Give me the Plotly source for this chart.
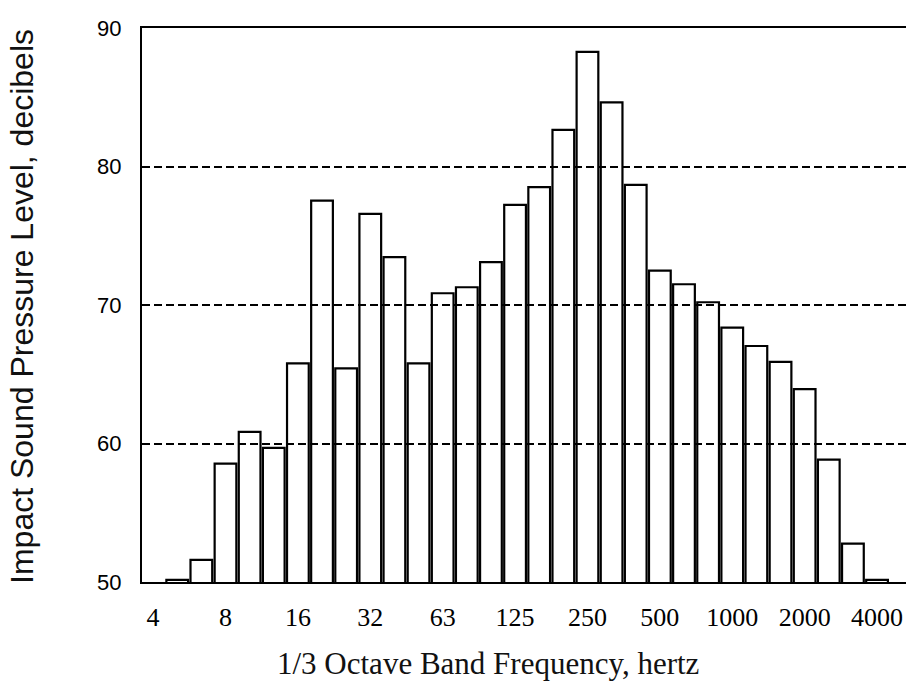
import plotly.graph_objects as go

# 1/3 octave band nominal centre frequencies (Hz)
bands = ["5", "6.3", "8", "10", "12.5", "16", "20", "25", "31.5", "40", "50", "63",
         "80", "100", "125", "160", "200", "250", "315", "400", "500", "630",
         "800", "1000", "1250", "1600", "2000", "2500", "3150", "4000"]
# band index position (4 Hz = 0)
band_pos = list(range(1, 31))
# Impact sound pressure level, dB
levels = [50.15, 51.6, 58.55, 60.84, 59.68, 65.78, 77.54, 65.42, 76.58, 73.45, 65.78, 70.85,
          71.28, 73.09, 77.23, 78.51, 82.65, 88.27, 84.63, 78.68, 72.48, 71.5,
          70.2, 68.36, 67.04, 65.9, 63.93, 58.84, 52.77, 50.15]

tick_pos = [0, 3, 6, 9, 12, 15, 18, 21, 24, 27, 30]
tick_labels = ["4", "8", "16", "32", "63", "125", "250", "500", "1000", "2000", "4000"]
y_ticks = [50, 60, 70, 80, 90]

fig = go.Figure()
fig.add_trace(go.Bar(
    x=band_pos, y=levels, width=0.9,
    marker=dict(color="rgba(0,0,0,0)", line=dict(color="black", width=2.2)),
    hovertext=bands,
))

fig.update_layout(
    width=909, height=685,
    margin=dict(l=142, r=3, t=28, b=103),
    plot_bgcolor="white", paper_bgcolor="white",
    showlegend=False,
    xaxis=dict(
        range=[-0.46, 31.2],
        tickvals=tick_pos, ticktext=tick_labels,
        showgrid=False, zeroline=False,
        showline=True, linecolor="black", linewidth=2, mirror=True,
        ticks="outside", ticklen=11, tickcolor="white",
        tickfont=dict(family="Liberation Serif", size=26, color="black"),
    ),
    yaxis=dict(
        range=[50, 90],
        tickvals=y_ticks,
        showgrid=True, gridcolor="black", gridwidth=2, griddash="8px,4px",
        zeroline=False,
        showline=True, linecolor="black", linewidth=2, mirror=False,
        ticks="outside", ticklen=14, tickcolor="white",
        tickfont=dict(family="Liberation Sans", size=22, color="black"),
    ),
    annotations=[
        dict(text="Impact Sound Pressure Level, decibels", xref="paper", yref="paper",
             x=-0.158, y=0.497, xanchor="center", yanchor="middle", textangle=-90,
             showarrow=False, font=dict(family="Liberation Sans", size=32, color="#111")),
        dict(text="1/3 Octave Band Frequency, hertz", xref="paper", yref="paper",
             x=0.453, y=-0.147, xanchor="center", yanchor="middle",
             showarrow=False, font=dict(family="Liberation Serif", size=31, color="#111")),
    ],
)

fig.write_html("out.html")
